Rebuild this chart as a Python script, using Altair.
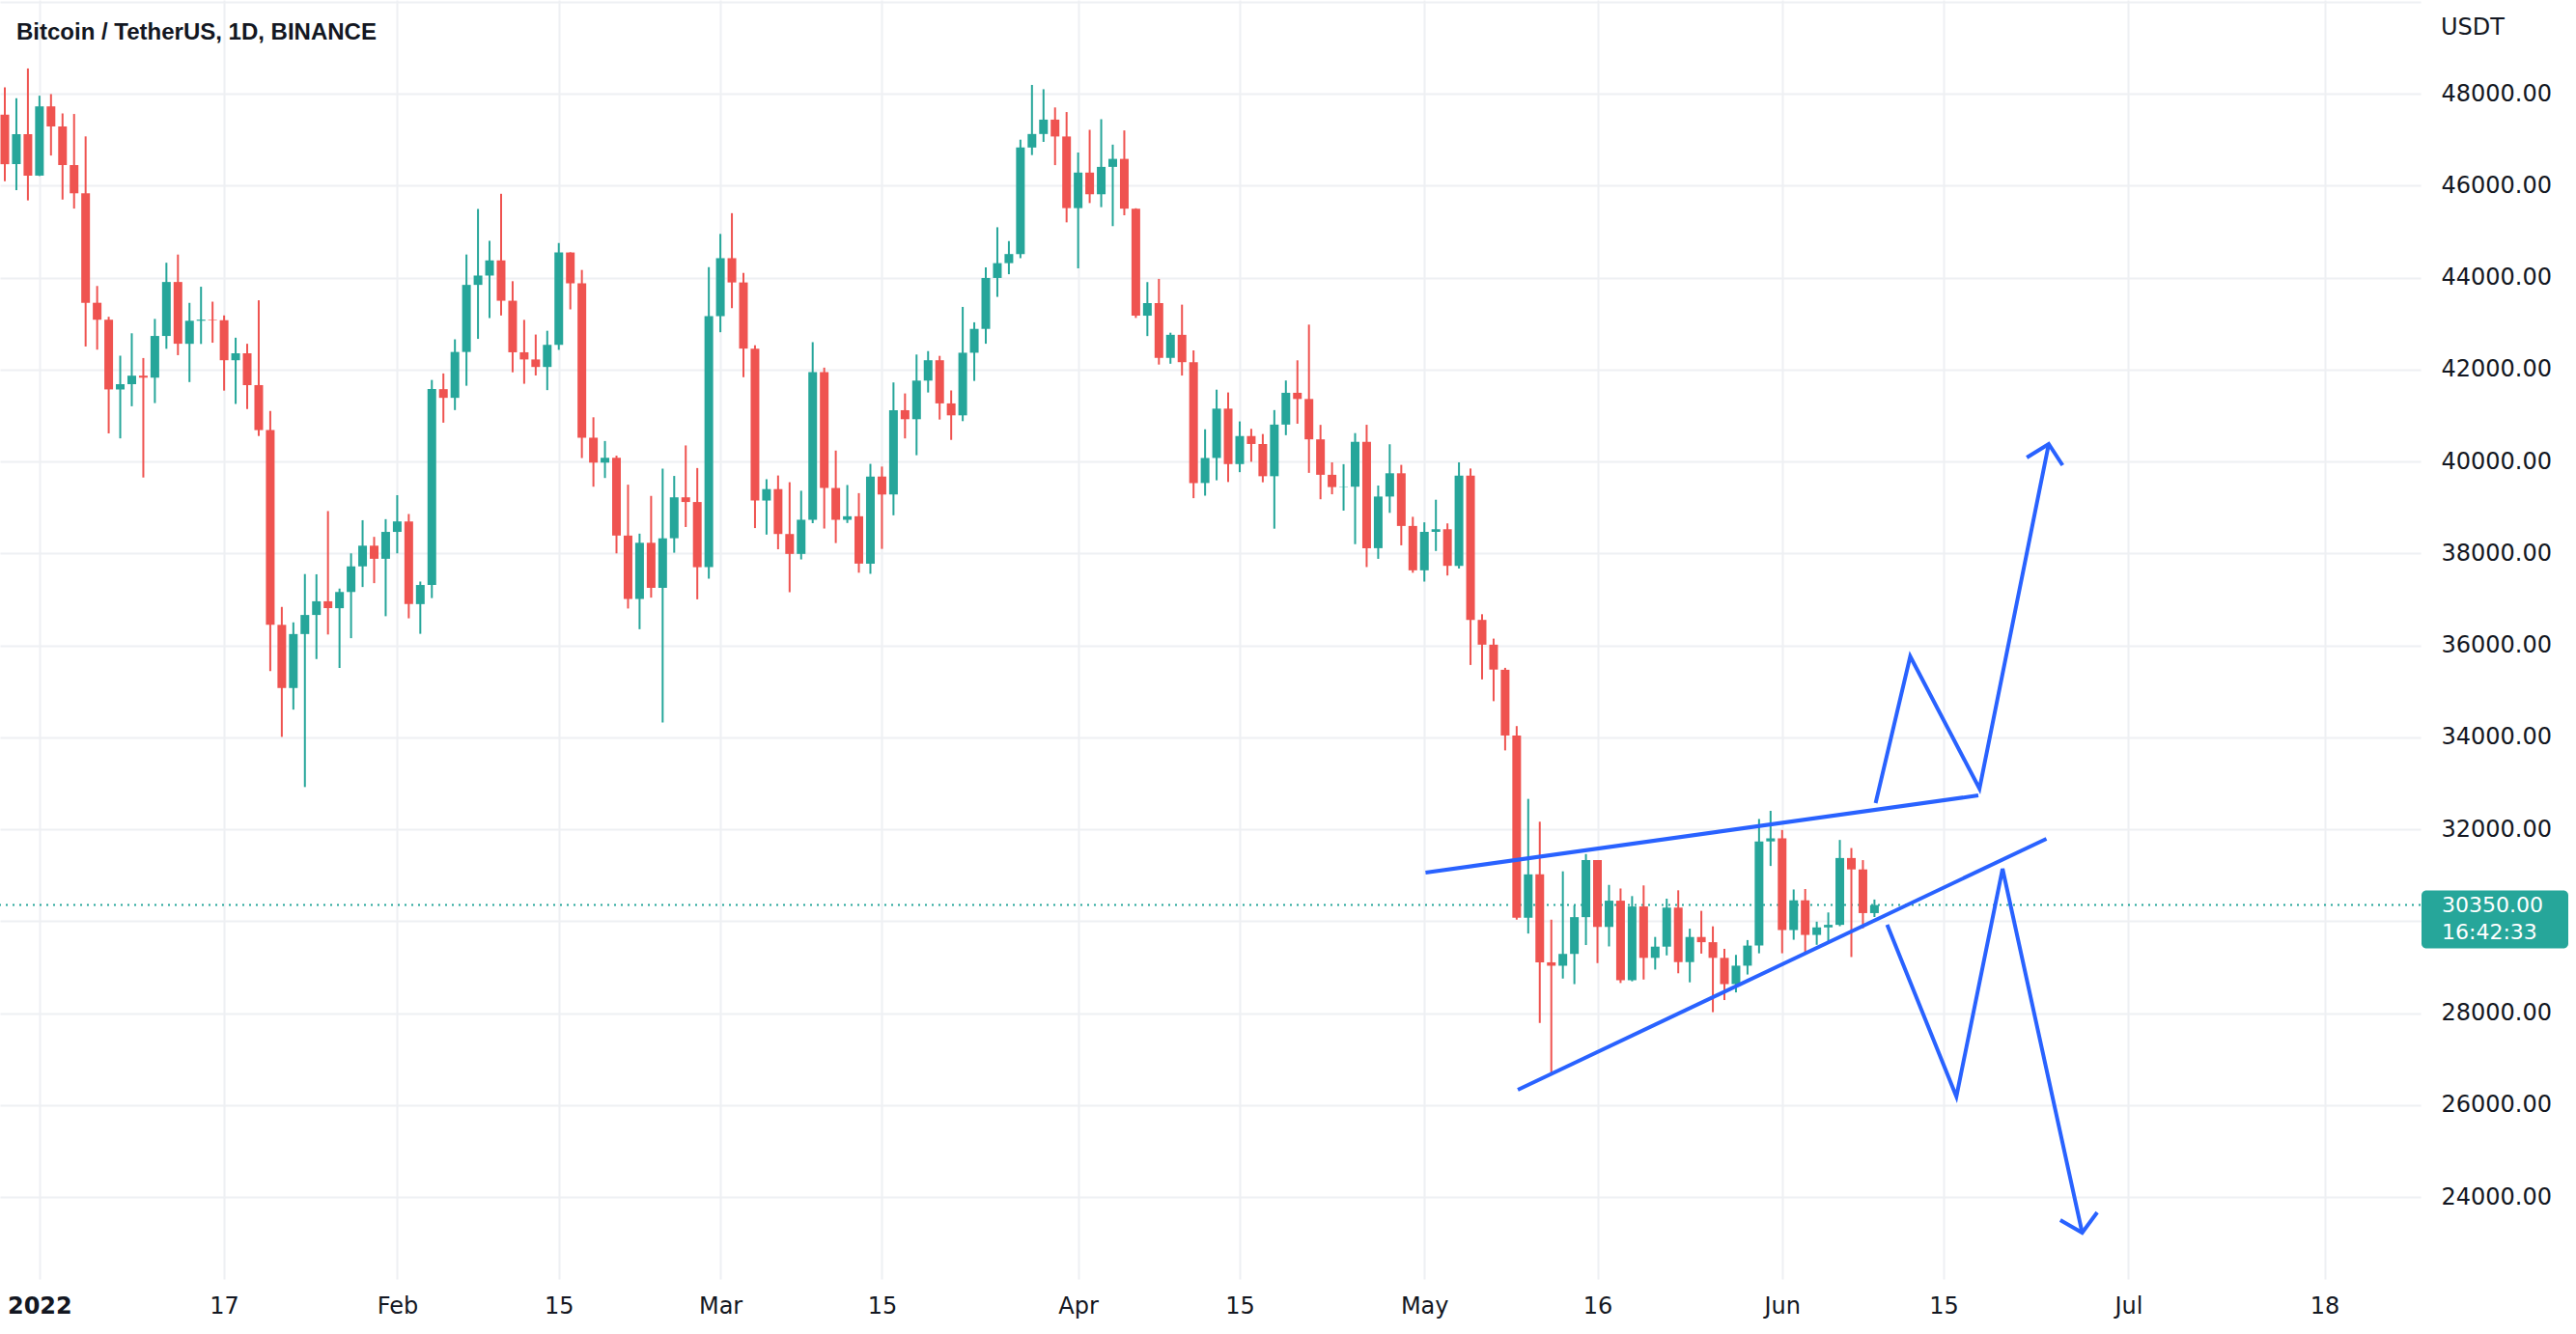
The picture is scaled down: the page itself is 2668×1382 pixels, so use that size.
import altair as alt
import numpy as np
import pandas as pd

TITLE = "Bitcoin / TetherUS, 1D, BINANCE"
CURRENCY = "USDT"
COUNTDOWN = "16:42:33"
FIRST_DATE = "2021-12-29"
ORIGIN = "2022-01-01"

# ---- daily OHLC, Dec 29 2021 .. Jun 9 2022 ----
opens = [
    47543, 46465, 47121,
    46217, 47723, 47286, 46446, 45832, 43451, 43082, 41566, 41680, 41865, 41822, 42729, 43903, 42558, 43060, 43084,
    43072, 42201, 42352, 41660, 40681, 36445, 35071, 36245, 36660, 36958, 36807, 37160, 37717, 38167, 37882,
    38467, 38695, 36896, 37312, 41572, 41383, 42381, 43840, 44043, 44373, 43495, 42374, 42218, 42054, 42536, 44545,
    43874, 40516, 39974, 40079, 38387, 37008, 38230, 37250, 38329, 39219, 39117, 37699,
    43160, 44421, 43893, 42454, 39149, 39398, 38421, 37988, 38731, 41942, 39422, 38730, 38807, 37777, 39671, 39280,
    41114, 40918, 41758, 42201, 41262, 41002, 42364, 42883, 43991, 44313, 44511, 46828, 47122, 47435, 47068,
    45510, 46283, 45811, 46407, 46581, 45498, 43170, 43444, 42252, 42754, 42159, 39530, 40075, 41148, 39942, 40552,
    40379, 39678, 40801, 41493, 41358, 40480, 39709, 39442, 39450, 40426, 38113, 39236, 39742, 38596,
    37631, 38468, 38525, 37729, 39690, 36553, 36014, 35468, 34038, 30074, 31017, 29104, 29030, 29287, 30087, 31329,
    29874, 30445, 28715, 30319, 29201, 29445, 30294, 29109, 29655, 29542, 29201, 28630, 29031, 29468, 31734,
    31801, 29806, 30453, 29700, 29864, 29919, 31373, 31125, 30175,
]
highs = [
    48139, 47900, 48548,
    47955, 47990, 47570, 47558, 47070, 43816, 43146, 42300, 42787, 42249, 43100, 44322, 44500, 43449, 43800, 43475,
    43176, 42691, 42559, 43505, 41100, 36835, 36499, 37550, 37545, 38920, 37234, 38000, 38721, 38359, 38744,
    39265, 38856, 37387, 41772, 41914, 42656, 44501, 45492, 44799, 45821, 43920, 43079, 42760, 42842, 44751, 44550,
    44165, 40960, 40444, 40125, 39494, 38429, 39250, 39843, 39684, 40348, 39856, 44226,
    44949, 45400, 44101, 42527, 39613, 39694, 39548, 39362, 42594, 42040, 40236, 39487, 39310, 39947, 39888, 41718,
    41479, 42325, 42400, 42296, 41544, 43361, 43026, 44221, 45094, 44793, 46999, 48190, 48096, 47700, 47600,
    46720, 47213, 47444, 46891, 47200, 45507, 43901, 43971, 42800, 43410, 42415, 40699, 41561, 41500, 40870, 40709,
    40596, 41117, 41760, 42199, 42976, 40795, 39980, 39940, 40616, 40797, 39475, 40373, 39925, 38795,
    38675, 39167, 38652, 39980, 39846, 36676, 36146, 35510, 34243, 32659, 32163, 30032, 31083, 30343, 31460, 31329,
    30788, 30710, 30545, 30777, 29656, 30488, 30671, 29836, 30224, 29887, 29398, 29266, 29588, 32222, 32399,
    31983, 30689, 30699, 29989, 30189, 31766, 31590, 31327, 30470,
]
lows = [
    46097, 45900, 45678,
    46208, 46654, 45696, 45500, 42500, 42431, 40610, 40501, 41200, 39650, 41269, 42450, 42311, 41726, 42555, 42582,
    41540, 41250, 41139, 40553, 35440, 34008, 34601, 32917, 35701, 36235, 35507, 36155, 37268, 37352, 36633,
    38000, 36587, 36250, 37027, 40843, 41117, 41646, 42666, 43118, 43174, 41939, 41689, 41870, 41551, 42427, 43307,
    40073, 39450, 39639, 38000, 36800, 36350, 37037, 34322, 38014, 38573, 37000, 37450,
    42810, 43334, 41832, 38550, 38408, 38089, 37155, 37868, 38656, 38540, 38224, 38661, 37579, 37555, 38098, 38828,
    40500, 40135, 41499, 40911, 40468, 40876, 41751, 42560, 43579, 44072, 44421, 46664, 46951, 46445, 45200,
    44200, 45620, 45531, 45118, 45354, 43121, 42727, 42107, 42125, 41868, 39200, 39255, 39589, 39552, 39766, 39992,
    39546, 38537, 40571, 40820, 39751, 39177, 39285, 38930, 38200, 37702, 37881, 38881, 38175, 37578,
    37386, 38052, 37518, 37670, 35572, 35258, 34785, 33714, 30033, 29730, 27785, 26700, 28751, 28630, 29480, 29087,
    29450, 28654, 28691, 28730, 28947, 29255, 28866, 28669, 29294, 28020, 28283, 28450, 28839, 29300, 31200,
    29301, 29595, 29282, 29485, 29531, 29890, 29219, 29844, 30090,
]
closes = [
    46465, 47121, 46217,
    47723, 47286, 46446, 45832, 43451, 43082, 41566, 41680, 41865, 41822, 42729, 43903, 42560, 43060, 43084, 43072,
    42201, 42352, 41660, 40681, 36445, 35071, 36245, 36660, 36958, 36809, 37160, 37717, 38167, 37882, 38467,
    38695, 36896, 37312, 41574, 41383, 42381, 43840, 44043, 44373, 43495, 42374, 42218, 42054, 42536, 44545, 43874,
    40516, 39974, 40079, 38387, 37008, 38230, 37250, 38327, 39219, 39117, 37699, 43160,
    44421, 43893, 42454, 39149, 39398, 38421, 37988, 38731, 41942, 39422, 38730, 38807, 37777, 39671, 39280, 41114,
    40918, 41758, 42201, 41262, 41002, 42364, 42883, 43991, 44313, 44511, 46828, 47122, 47435, 47068, 45510,
    46283, 45811, 46407, 46581, 45498, 43170, 43444, 42252, 42754, 42159, 39530, 40075, 41148, 39942, 40552, 40379,
    39678, 40801, 41493, 41358, 40480, 39709, 39442, 39450, 40426, 38113, 39236, 39742, 38596, 37631,
    38468, 38525, 37729, 39690, 36553, 36014, 35472, 34038, 30076, 31017, 29104, 29030, 29287, 30087, 31329, 29874,
    30445, 28715, 30319, 29201, 29445, 30294, 29109, 29655, 29542, 29201, 28630, 29031, 29468, 31734, 31801,
    29806, 30453, 29700, 29864, 29919, 31373, 31125, 30175, 30350,
]

# ---- axis ticks ----
tick_dates = ["2022-01-01", "2022-01-17", "2022-02-01", "2022-02-15", "2022-03-01", "2022-03-15", "2022-04-01",
              "2022-04-15", "2022-05-01", "2022-05-16", "2022-06-01", "2022-06-15", "2022-07-01", "2022-07-18"]
tick_labels = ["2022", "17", "Feb", "15", "Mar", "15", "Apr", "15", "May", "16", "Jun", "15", "Jul", "18"]
price_ticks = [24000, 26000, 28000, 30000, 32000, 34000, 36000, 38000, 40000, 42000, 44000, 46000, 48000, 50000]

# ---- hand-drawn lines (day offset from Jan 1, price) ----
upper_line_days, upper_line_prices = [120.1, 168.0], [31055, 32735]
lower_line_days, lower_line_prices = [128.1, 173.9], [26331, 31790]
up_path_days, up_path_prices = [159.1, 162.1, 168.1, 174.1], [32567, 35759, 32882, 40378]
up_head_days, up_head_prices = [172.2, 174.1, 175.3], [40084, 40378, 39916]
down_path_days, down_path_prices = [160.1, 166.1, 170.1, 177.0], [29921, 26184, 31139, 23223]
down_head_days, down_head_prices = [175.1, 177.0, 178.3], [23496, 23223, 23664]

# ---- styling ----
GREEN = "#26a69a"
RED = "#ef5350"
BLUE = "#2962ff"
GRID = "#eef0f3"
TEXT = "#131722"
TOTAL_W, TOTAL_H = 2668, 1382
PLOT_W, PLOT_H = 2507, 1325
X_DOMAIN = [-3, 205.9]
Y_DOMAIN = [22216, 50037]

assert len(opens) == len(highs) == len(lows) == len(closes)

origin = pd.Timestamp(ORIGIN)
dates = pd.date_range(FIRST_DATE, periods=len(opens), freq="D")
df = pd.DataFrame({
    "day": (dates - origin).days,
    "open": opens, "high": highs, "low": lows, "close": closes,
})
df["lo"] = df[["open", "close"]].min(axis=1)
df["hi"] = df[["open", "close"]].max(axis=1)
df["dir"] = np.where(df["close"] >= df["open"], "up", "down")

tick_days = [int((pd.Timestamp(d) - origin).days) for d in tick_dates]
label_expr = "''"
for d, lab in reversed(list(zip(tick_days, tick_labels))):
    label_expr = f"datum.value == {d} ? '{lab}' : ({label_expr})"

last_price = closes[-1]

xs = alt.Scale(domain=X_DOMAIN, nice=False, zero=False)
ys = alt.Scale(domain=Y_DOMAIN, nice=False, zero=False)

x_axis = alt.Axis(
    values=tick_days, labelExpr=label_expr, grid=True, gridColor=GRID, gridWidth=2,
    domain=False, ticks=False, labelPadding=16, labelFont="DejaVu Sans", labelFontSize=24,
    labelColor=TEXT, labelOverlap=False, labelFlush=False, title=None,
    labelFontWeight={"condition": {"test": "datum.value == 0", "value": "bold"}, "value": "normal"},
)
# labels at the very top and the one covered by the last-price tag are not shown
y_axis = alt.Axis(
    orient="right", values=price_ticks,
    labelExpr=(f"(datum.value > 49000 || abs(datum.value - {last_price}) < 1000) "
               "? '' : format(datum.value, '.2f')"),
    grid=True, gridColor=GRID, gridWidth=2, domain=False, ticks=False, labelPadding=21,
    labelFont="DejaVu Sans", labelFontSize=24, labelColor=TEXT, labelOverlap=False,
    labelFlush=False, title=None,
)


def X(field):
    return alt.X(field, type="quantitative", scale=xs, axis=x_axis)


def Y(field):
    return alt.Y(field, type="quantitative", scale=ys, axis=y_axis)


color = alt.Color("dir:N", scale=alt.Scale(domain=["up", "down"], range=[GREEN, RED]), legend=None)

last = pd.DataFrame({"price": [last_price], "label": [f"{last_price:.2f}"], "cd": [COUNTDOWN]})

price_line = alt.Chart(last).mark_rule(color=GREEN, strokeWidth=2, strokeDash=[2, 5]).encode(y=Y("price"))

wicks = alt.Chart(df).mark_rule(strokeWidth=2, clip=True).encode(
    x=X("day"), y=Y("low"), y2="high:Q", color=color)
bodies = alt.Chart(df).mark_bar(size=9, clip=True).encode(
    x=X("day"), y=Y("lo"), y2="hi:Q", color=color)

draw_rows = []
for name, ds, ps in [
    ("upper", upper_line_days, upper_line_prices),
    ("lower", lower_line_days, lower_line_prices),
    ("up", up_path_days, up_path_prices),
    ("uphead", up_head_days, up_head_prices),
    ("down", down_path_days, down_path_prices),
    ("downhead", down_head_days, down_head_prices),
]:
    for i, (d, p) in enumerate(zip(ds, ps)):
        draw_rows.append({"grp": name, "ord": i, "day": d, "price": p})
draw_df = pd.DataFrame(draw_rows)

drawings = alt.Chart(draw_df).mark_line(color=BLUE, strokeWidth=4, strokeJoin="miter", clip=True).encode(
    x=X("day"), y=Y("price"), detail="grp:N", order="ord:Q")

box = alt.Chart(last).mark_rect(color=GREEN, cornerRadius=5, yOffset=-15, y2Offset=45).encode(
    x=alt.value(PLOT_W + 1), x2=alt.value(PLOT_W + 153), y=Y("price"), y2="price:Q")
box_price = alt.Chart(last).mark_text(
    align="left", baseline="middle", color="white", font="DejaVu Sans", fontSize=22).encode(
    x=alt.value(PLOT_W + 22), y=Y("price"), text="label:N")
box_cd = alt.Chart(last).mark_text(
    align="left", baseline="middle", color="white", font="DejaVu Sans", fontSize=22, dy=28).encode(
    x=alt.value(PLOT_W + 22), y=Y("price"), text="cd:N")

usdt = alt.Chart(pd.DataFrame({"t": [CURRENCY]})).mark_text(
    align="left", baseline="middle", color=TEXT, font="DejaVu Sans", fontSize=24).encode(
    x=alt.value(PLOT_W + 21), y=alt.value(29), text="t:N")
title = alt.Chart(pd.DataFrame({"t": [TITLE]})).mark_text(
    align="left", baseline="alphabetic", color=TEXT, font="Liberation Sans", fontWeight="bold",
    fontSize=24).encode(x=alt.value(17), y=alt.value(41), text="t:N")

chart = alt.layer(
    price_line, wicks, bodies, drawings, box, box_price, box_cd, usdt, title
).properties(
    width=PLOT_W, height=PLOT_H, background="white",
    autosize=alt.AutoSizeParams(type="none"),
    padding={"left": 0, "top": 0, "right": TOTAL_W - PLOT_W, "bottom": TOTAL_H - PLOT_H},
).configure_view(stroke=None)

chart.save("out.html", embed_options={"renderer": "svg", "actions": False})
